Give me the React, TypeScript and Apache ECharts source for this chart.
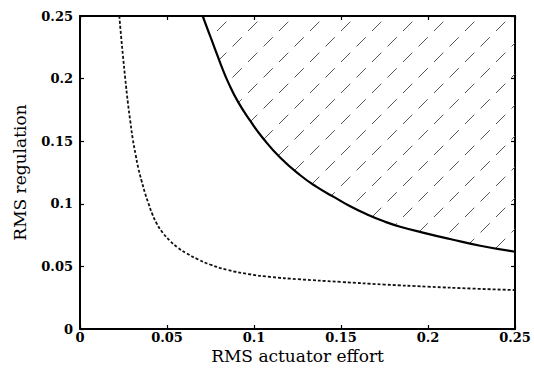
import React, { useEffect, useRef } from "react";
import * as echarts from "echarts";

const xTicks = [0, 0.05, 0.1, 0.15, 0.2, 0.25];
const boundX = [0.0705, 0.074, 0.0775, 0.081, 0.0855, 0.091, 0.098, 0.1054, 0.115, 0.1264, 0.136, 0.1456, 0.155, 0.165, 0.175, 0.184, 0.2, 0.2126, 0.23, 0.25];
const boundY = [0.25, 0.237, 0.224, 0.211, 0.196, 0.181, 0.166, 0.152, 0.137, 0.123, 0.1135, 0.1057, 0.0982, 0.0915, 0.0858, 0.0817, 0.076, 0.0719, 0.0665, 0.0617];
const dashX = [0.0226, 0.0236, 0.0247, 0.026, 0.0275, 0.029, 0.0303, 0.032, 0.0335, 0.0355, 0.0375, 0.0393, 0.0415, 0.044, 0.0475, 0.0517, 0.056, 0.0613, 0.068, 0.0747, 0.085, 0.0967, 0.11, 0.125, 0.15, 0.175, 0.2, 0.225, 0.25];
const dashY = [0.25, 0.234, 0.218, 0.2, 0.181, 0.165, 0.152, 0.139, 0.1285, 0.1178, 0.108, 0.1005, 0.092, 0.0845, 0.077, 0.0705, 0.0652, 0.0604, 0.0555, 0.0515, 0.0472, 0.0439, 0.0415, 0.0398, 0.0376, 0.0355, 0.0338, 0.0323, 0.0311];

const FONT = "DejaVu Serif";

function makeHatch(T: number): string {
  const c = document.createElement("canvas");
  c.width = T;
  c.height = T;
  const ctx = c.getContext("2d");
  if (ctx) {
    ctx.strokeStyle = "#555";
    ctx.lineWidth = 1;
    const L = T * Math.SQRT2;
    ctx.setLineDash([L * 0.3, L * 0.2]);
    ctx.beginPath();
    ctx.moveTo(0, T);
    ctx.lineTo(T, 0);
    ctx.stroke();
  }
  return c.toDataURL();
}

export default function App() {
  const ref = useRef<HTMLDivElement>(null);
  useEffect(() => {
    if (!ref.current) return;
    const chart = echarts.init(ref.current, undefined, { renderer: "svg" });
    const T = 31;
    const hatch = makeHatch(T);
    const axisLine = { show: true, onZero: false, lineStyle: { color: "#000", width: 2 } };
    const tick = { show: true, inside: true, length: 4, lineStyle: { color: "#000", width: 1.2 } };
    const label = { color: "#000", fontFamily: FONT, fontWeight: "bold" as const, fontSize: 13 };
    const xRange = { min: xTicks[0], max: xTicks[xTicks.length - 1], interval: 0.05 };
    chart.setOption({
      animation: false,
      backgroundColor: "#fff",
      grid: { left: 80, right: 19, top: 16, bottom: 48 },
      xAxis: [
        {
          type: "value",
          ...xRange,
          position: "bottom",
          axisLine,
          axisTick: tick,
          splitLine: { show: false },
          axisLabel: { ...label, margin: 2 },
          name: "RMS actuator effort",
          nameLocation: "middle",
          nameGap: 18,
          nameMoveOverlap: false,
          nameTextStyle: { color: "#000", fontFamily: FONT, fontSize: 17 },
        },
        {
          type: "value",
          ...xRange,
          position: "top",
          axisLine,
          axisTick: tick,
          splitLine: { show: false },
          axisLabel: { show: false },
        },
      ],
      yAxis: [
        {
          type: "value",
          min: 0,
          max: 0.25,
          interval: 0.05,
          position: "left",
          axisLine,
          axisTick: tick,
          splitLine: { show: false },
          axisLabel: { ...label, margin: 7 },
          name: "RMS regulation",
          nameLocation: "middle",
          nameGap: 52,
          nameMoveOverlap: false,
          nameTextStyle: { color: "#000", fontFamily: FONT, fontSize: 17 },
        },
        {
          type: "value",
          min: 0,
          max: 0.25,
          interval: 0.05,
          position: "right",
          axisLine,
          axisTick: tick,
          splitLine: { show: false },
          axisLabel: { show: false },
        },
      ],
      series: [
        {
          type: "line",
          data: boundX.map((x, i) => [x, boundY[i]]),
          showSymbol: false,
          smooth: 0.5,
          lineStyle: { color: "#000", width: 2.2 },
          areaStyle: {
            origin: "end",
            opacity: 1,
            color: { image: hatch, repeat: "repeat", imageWidth: T, imageHeight: T } as any,
          },
          z: 3,
        },
        {
          type: "line",
          data: dashX.map((x, i) => [x, dashY[i]]),
          showSymbol: false,
          smooth: 0.5,
          lineStyle: { color: "#111", width: 1.8, type: [3, 2] },
          z: 3,
        },
      ],
    });
    return () => chart.dispose();
  }, []);
  return (
    <div
      ref={ref}
      style={{ position: "fixed", left: 0, top: 0, width: 534, height: 377, background: "#fff" }}
    />
  );
}
